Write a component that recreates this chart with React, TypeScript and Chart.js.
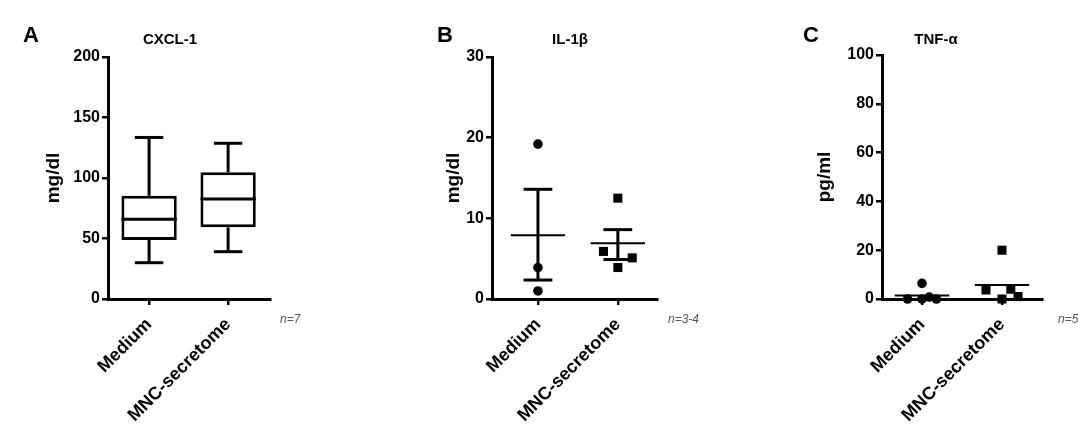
import React, { useEffect, useRef } from "react";
import { Chart, registerables } from "chart.js";

Chart.register(...registerables);

const FONT = '"Liberation Sans", Arial, Helvetica, sans-serif';

// ---------- data ----------
const groups = ["Medium", "MNC-secretome"];

// Panel A: CXCL-1 (box & whiskers, min to max)
const cxclMin = [30, 39.1];
const cxclQ1 = [48.8, 59.2];
const cxclMedian = [65.9, 82.6];
const cxclQ3 = [85.3, 104.7];
const cxclMax = [133.5, 128.7];
const cxclTicks = [0, 50, 100, 150, 200];

// Panel B: IL-1β (individual values, mean ± SEM)
const il1bMedium = [19.2, 3.9, 1.0];
const il1bMnc = [12.5, 5.9, 5.1, 3.9];
const il1bMean = [7.9, 6.9];
const il1bSemLow = [2.35, 4.9];
const il1bSemHigh = [13.6, 8.6];
const il1bTicks = [0, 10, 20, 30];

// Panel C: TNF-α (individual values, mean)
const tnfMedium = [6.4, 0, 0, 0.8, 0];
const tnfMnc = [20, 3.7, 0, 4.0, 1.0];
const tnfMean = [1.4, 5.7];
const tnfTicks = [0, 20, 40, 60, 80, 100];

// horizontal scatter of the points (in category units)
const il1bMediumJitter = [0, 0, 0];
const il1bMncJitter = [0, -0.18, 0.18, 0];
const tnfMediumJitter = [0, -0.18, 0, 0.09, 0.18];
const tnfMncJitter = [0, -0.2, 0, 0.11, 0.2];

// ---------- styling constants ----------
const BOX_HALF = 0.35;
const CAP_HALF = 0.18;
const MEAN_HALF = 0.34;
const H = 443;
const AXIS_BOTTOM = 299;

function hSeg(ctx: any, x: any, y: any, i: number, v: number, half: number, lw: number) {
  const x0 = x.getPixelForValue(i - half);
  const x1 = x.getPixelForValue(i + half);
  const py = y.getPixelForValue(v);
  ctx.lineWidth = lw;
  ctx.beginPath();
  ctx.moveTo(x0, py);
  ctx.lineTo(x1, py);
  ctx.stroke();
}

function vSeg(ctx: any, x: any, y: any, i: number, v0: number, v1: number, lw: number) {
  const px = x.getPixelForValue(i);
  ctx.lineWidth = lw;
  ctx.beginPath();
  ctx.moveTo(px, y.getPixelForValue(v0));
  ctx.lineTo(px, y.getPixelForValue(v1));
  ctx.stroke();
}

const boxPlugin = {
  id: "boxWhiskers",
  afterDatasetsDraw(chart: any) {
    const { ctx } = chart;
    const x = chart.scales.x;
    const y = chart.scales.y;
    ctx.save();
    ctx.strokeStyle = "#000";
    groups.forEach((_, i) => {
      vSeg(ctx, x, y, i, cxclQ3[i], cxclMax[i], 3);
      vSeg(ctx, x, y, i, cxclMin[i], cxclQ1[i], 3);
      hSeg(ctx, x, y, i, cxclMax[i], CAP_HALF, 3);
      hSeg(ctx, x, y, i, cxclMin[i], CAP_HALF, 3);
      hSeg(ctx, x, y, i, cxclMedian[i], BOX_HALF, 3);
    });
    ctx.restore();
  },
};

const semPlugin = {
  id: "meanSem",
  afterDatasetsDraw(chart: any) {
    const { ctx } = chart;
    const x = chart.scales.x;
    const y = chart.scales.y;
    ctx.save();
    ctx.strokeStyle = "#000";
    groups.forEach((_, i) => {
      vSeg(ctx, x, y, i, il1bSemLow[i], il1bSemHigh[i], 3);
      hSeg(ctx, x, y, i, il1bSemLow[i], CAP_HALF, 3);
      hSeg(ctx, x, y, i, il1bSemHigh[i], CAP_HALF, 3);
      hSeg(ctx, x, y, i, il1bMean[i], MEAN_HALF, 2);
    });
    ctx.restore();
  },
};

const meanPlugin = {
  id: "meanOnly",
  afterDatasetsDraw(chart: any) {
    const { ctx } = chart;
    const x = chart.scales.x;
    const y = chart.scales.y;
    ctx.save();
    ctx.strokeStyle = "#000";
    groups.forEach((_, i) => {
      hSeg(ctx, x, y, i, tnfMean[i], MEAN_HALF, 2);
    });
    ctx.restore();
  },
};

interface AxisOpts {
  padLeft: number;
  padRight: number;
  padTop: number;
  yWidth: number;
  yMax: number;
  yTicks: number[];
  yTitle: string;
  xMin: number;
  xMax: number;
}

function axisOptions(p: AxisOpts): any {
  const gridCommon = {
    display: true,
    drawOnChartArea: false,
    drawTicks: true,
    tickLength: 6,
    color: "#000",
    lineWidth: 2.5,
    offset: false,
  };
  const border = { display: true, color: "#000", width: 3 };
  return {
    responsive: false,
    maintainAspectRatio: false,
    animation: false,
    events: [],
    layout: { padding: { left: p.padLeft, right: p.padRight, top: p.padTop, bottom: 0 } },
    plugins: { legend: { display: false }, tooltip: { enabled: false }, title: { display: false } },
    scales: {
      x: {
        type: "linear",
        min: p.xMin,
        max: p.xMax,
        offset: false,
        afterBuildTicks: (s: any) => {
          s.ticks = groups.map((_, i) => ({ value: i }));
        },
        afterFit: (s: any) => {
          s.height = H - AXIS_BOTTOM;
        },
        ticks: {
          callback: (v: any) => groups[Math.round(Number(v))],
          minRotation: 45,
          maxRotation: 45,
          autoSkip: false,
          padding: 9,
          color: "#000",
          font: { family: FONT, size: 18, weight: "bold" },
        },
        grid: gridCommon,
        border,
      },
      y: {
        type: "linear",
        min: 0,
        max: p.yMax,
        afterBuildTicks: (s: any) => {
          s.ticks = p.yTicks.map((v) => ({ value: v }));
        },
        afterFit: (s: any) => {
          s.width = p.yWidth;
        },
        title: {
          display: true,
          text: p.yTitle,
          color: "#000",
          font: { family: FONT, size: 19, weight: "bold" },
          padding: { top: 2, bottom: 0 },
        },
        ticks: {
          padding: 2,
          color: "#000",
          font: { family: FONT, size: 16, weight: "bold" },
        },
        grid: gridCommon,
        border,
      },
    },
  };
}

function configA(): any {
  return {
    type: "bar",
    data: {
      datasets: [
        {
          label: "CXCL-1",
          data: groups.map((_, i) => ({ x: i, y: [cxclQ1[i], cxclQ3[i]] })),
          backgroundColor: "#fff",
          borderColor: "#000",
          borderWidth: 3,
          borderSkipped: false,
          categoryPercentage: 1,
          barPercentage: 0.7,
        },
      ],
    },
    options: axisOptions({
      padLeft: 40,
      padRight: 90,
      padTop: 57,
      yWidth: 68,
      yMax: 200,
      yTicks: cxclTicks,
      yTitle: "mg/dl",
      xMin: -0.52,
      xMax: 1.53,
    }),
    plugins: [boxPlugin],
  };
}

function pointsDataset(label: string, values: number[], jitter: number[], group: number, style: string, radius: number) {
  return {
    label,
    data: values.map((v, k) => ({ x: group + jitter[k], y: v })),
    pointStyle: style,
    pointRadius: radius,
    pointBackgroundColor: "#000",
    pointBorderColor: "#000",
    pointBorderWidth: 0,
    showLine: false,
    clip: false,
  };
}

function configB(): any {
  return {
    type: "scatter",
    data: {
      datasets: [
        pointsDataset("Medium", il1bMedium, il1bMediumJitter, 0, "circle", 4.8),
        pointsDataset("MNC-secretome", il1bMnc, il1bMncJitter, 1, "rect", 6.4),
      ],
    },
    options: axisOptions({
      padLeft: 80,
      padRight: 63,
      padTop: 57,
      yWidth: 52,
      yMax: 30,
      yTicks: il1bTicks,
      yTitle: "mg/dl",
      xMin: -0.575,
      xMax: 1.49,
    }),
    plugins: [semPlugin],
  };
}

function configC(): any {
  return {
    type: "scatter",
    data: {
      datasets: [
        pointsDataset("Medium", tnfMedium, tnfMediumJitter, 0, "circle", 4.8),
        pointsDataset("MNC-secretome", tnfMnc, tnfMncJitter, 1, "rect", 6.4),
      ],
    },
    options: axisOptions({
      padLeft: 91,
      padRight: 36,
      padTop: 55,
      yWidth: 71,
      yMax: 100,
      yTicks: tnfTicks,
      yTitle: "pg/ml",
      xMin: -0.5,
      xMax: 1.5,
    }),
    plugins: [meanPlugin],
  };
}

function Panel({ left, width, make }: { left: number; width: number; make: () => any }) {
  const ref = useRef<HTMLCanvasElement>(null);
  useEffect(() => {
    const chart = new Chart(ref.current as HTMLCanvasElement, make());
    return () => chart.destroy();
  }, []);
  return (
    <canvas
      ref={ref}
      width={width}
      height={H}
      style={{ position: "absolute", left, top: 0, width, height: H, display: "block" }}
    />
  );
}

const letterStyle = (left: number): React.CSSProperties => ({
  position: "absolute",
  left,
  top: 24,
  fontSize: 22,
  lineHeight: "22px",
  fontWeight: "bold",
  color: "#000",
  fontFamily: FONT,
});

const titleStyle = (center: number): React.CSSProperties => ({
  position: "absolute",
  left: center - 60,
  width: 120,
  top: 31,
  textAlign: "center",
  fontSize: 15,
  lineHeight: "15px",
  fontWeight: "bold",
  color: "#000",
  fontFamily: FONT,
});

const nStyle = (left: number): React.CSSProperties => ({
  position: "absolute",
  left,
  top: 313,
  fontSize: 12,
  lineHeight: "12px",
  fontStyle: "italic",
  color: "#555",
  fontFamily: FONT,
  whiteSpace: "nowrap",
});

export default function App() {
  return (
    <div
      style={{
        position: "absolute",
        left: 0,
        top: 0,
        width: 1078,
        height: H,
        background: "#fff",
        overflow: "hidden",
        fontFamily: FONT,
      }}
    >
      <Panel left={0} width={360} make={configA} />
      <Panel left={360} width={360} make={configB} />
      <Panel left={720} width={358} make={configC} />

      <div style={letterStyle(23)}>A</div>
      <div style={letterStyle(437)}>B</div>
      <div style={letterStyle(803)}>C</div>

      <div style={titleStyle(170)}>CXCL-1</div>
      <div style={titleStyle(570)}>IL-1β</div>
      <div style={titleStyle(936)}>TNF-α</div>

      <div style={nStyle(280)}>n=7</div>
      <div style={nStyle(668)}>n=3-4</div>
      <div style={nStyle(1058)}>n=5</div>
    </div>
  );
}
